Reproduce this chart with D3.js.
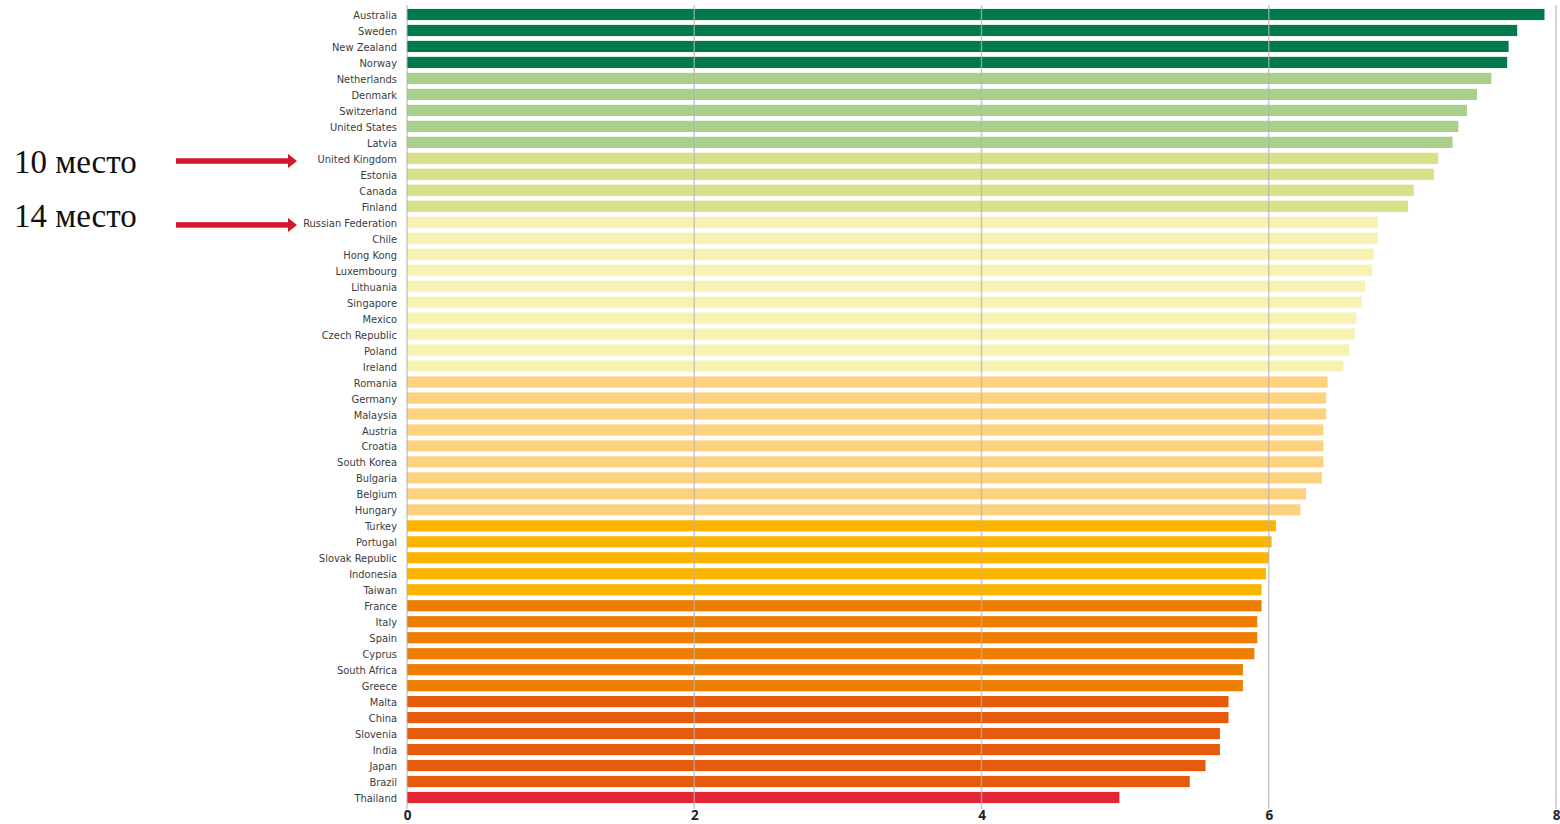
<!DOCTYPE html>
<html>
<head>
<meta charset="utf-8">
<script src="https://cdn.jsdelivr.net/npm/d3@7"></script>
<style>
  html, body { margin: 0; padding: 0; background: #fff; }
  svg { display: block; }
</style>
</head>
<body>
<svg id="chart" width="1560" height="824"></svg>
<script>
const countries = ["Australia","Sweden","New Zealand","Norway","Netherlands","Denmark","Switzerland","United States","Latvia","United Kingdom","Estonia","Canada","Finland","Russian Federation","Chile","Hong Kong","Luxembourg","Lithuania","Singapore","Mexico","Czech Republic","Poland","Ireland","Romania","Germany","Malaysia","Austria","Croatia","South Korea","Bulgaria","Belgium","Hungary","Turkey","Portugal","Slovak Republic","Indonesia","Taiwan","France","Italy","Spain","Cyprus","South Africa","Greece","Malta","China","Slovenia","India","Japan","Brazil","Thailand"];
const values = [7.92,7.73,7.67,7.66,7.55,7.45,7.38,7.32,7.28,7.18,7.15,7.01,6.97,6.76,6.76,6.73,6.72,6.67,6.65,6.61,6.60,6.56,6.52,6.41,6.40,6.40,6.38,6.38,6.38,6.37,6.26,6.22,6.05,6.02,6.00,5.98,5.95,5.95,5.92,5.92,5.90,5.82,5.82,5.72,5.72,5.66,5.66,5.56,5.45,4.96];
// colour group index for each country (0 = best)
const groups = [0,0,0,0,1,1,1,1,1,2,2,2,2,3,3,3,3,3,3,3,3,3,3,4,4,4,4,4,4,4,4,4,5,5,5,5,5,6,6,6,6,6,6,7,7,7,7,7,7,8];
const groupColors = ["#007a4a","#a9d08a","#d9e188","#f7f1b2","#fdd27f","#fbb500","#ee7d03","#e65a0c","#e32636"];
const xTicks = [0,2,4,6,8];
const annotationCountries = ["United Kingdom","Russian Federation"];
const annotationTexts = ["10 место","14 место"];

const svg = d3.select("#chart");
const x = d3.scaleLinear().domain([0,8]).range([407,1556]);
const y = d3.scaleBand().domain(countries).range([6.5,805.5]).paddingInner(0.3).paddingOuter(0.15);

// bars
svg.append("g").selectAll("rect").data(countries).join("rect")
  .attr("x", x(0))
  .attr("y", d => y(d))
  .attr("width", (d,i) => x(values[i]) - x(0))
  .attr("height", y.bandwidth())
  .attr("fill", (d,i) => groupColors[groups[i]]);

// grid lines (drawn over bars)
svg.append("g").selectAll("line").data(xTicks).join("line")
  .attr("x1", d => x(d)).attr("x2", d => x(d))
  .attr("y1", 5).attr("y2", 809)
  .attr("stroke", "#b4b4b4").attr("stroke-opacity", 0.7).attr("stroke-width", 1.5);

// x axis labels
const xAxis = d3.axisBottom(x).tickValues(xTicks).tickSize(0).tickPadding(0).tickFormat(d3.format("d"));
const gx = svg.append("g").attr("transform", "translate(0,810)").call(xAxis);
gx.select(".domain").remove();
gx.selectAll("text")
  .attr("dy", "0.71em")
  .style("font-family", "'Open Sans', 'Liberation Sans', sans-serif")
  .style("font-weight", "700").style("font-size", "13.5px").attr("fill", "#222");

// y axis labels
const yAxis = d3.axisLeft(y).tickSize(0).tickPadding(10);
const gy = svg.append("g").attr("transform", `translate(${x(0)},1)`).call(yAxis);
gy.select(".domain").remove();
gy.selectAll("text")
  .style("font-family", "'DejaVu Sans Condensed', 'Liberation Sans Narrow', sans-serif")
  .style("font-stretch", "condensed")
  .style("font-size", "11px").attr("fill", "#3c3c3c");

// annotations
const textBaselines = [173, 227];
const ann = svg.append("g");
annotationCountries.forEach((c, k) => {
  const cy = y(c) + y.bandwidth()/2 + 2.7;
  ann.append("text").attr("x", 14).attr("y", textBaselines[k])
    .style("font-family", "'Liberation Serif', 'Times New Roman', serif")
    .style("font-size", "33px").attr("fill", "#111").text(annotationTexts[k]);
  ann.append("rect").attr("x", 176).attr("y", cy - 2.75).attr("width", 114).attr("height", 5.5).attr("fill", "#d0172b");
  ann.append("path")
    .attr("d", `M288,${cy-7} L297,${cy} L288,${cy+7} Z`)
    .attr("fill", "#d0172b");
});
</script>
</body>
</html>
